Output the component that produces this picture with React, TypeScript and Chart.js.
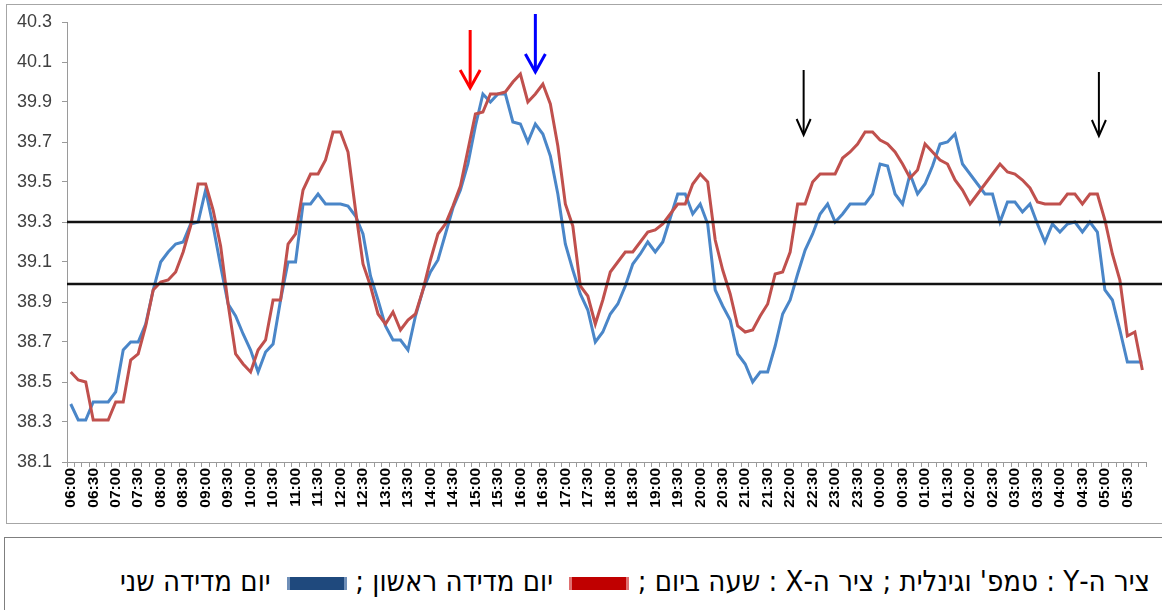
import React, { useEffect, useRef } from "react";
import { Chart, registerables } from "chart.js";

Chart.register(...registerables);

const times: string[] = [
  "06:00","06:10","06:20","06:30","06:40","06:50","07:00","07:10","07:20","07:30","07:40","07:50",
  "08:00","08:10","08:20","08:30","08:40","08:50","09:00","09:10","09:20","09:30","09:40","09:50",
  "10:00","10:10","10:20","10:30","10:40","10:50","11:00","11:10","11:20","11:30","11:40","11:50",
  "12:00","12:10","12:20","12:30","12:40","12:50","13:00","13:10","13:20","13:30","13:40","13:50",
  "14:00","14:10","14:20","14:30","14:40","14:50","15:00","15:10","15:20","15:30","15:40","15:50",
  "16:00","16:10","16:20","16:30","16:40","16:50","17:00","17:10","17:20","17:30","17:40","17:50",
  "18:00","18:10","18:20","18:30","18:40","18:50","19:00","19:10","19:20","19:30","19:40","19:50",
  "20:00","20:10","20:20","20:30","20:40","20:50","21:00","21:10","21:20","21:30","21:40","21:50",
  "22:00","22:10","22:20","22:30","22:40","22:50","23:00","23:10","23:20","23:30","23:40","23:50",
  "00:00","00:10","00:20","00:30","00:40","00:50","01:00","01:10","01:20","01:30","01:40","01:50",
  "02:00","02:10","02:20","02:30","02:40","02:50","03:00","03:10","03:20","03:30","03:40","03:50",
  "04:00","04:10","04:20","04:30","04:40","04:50","05:00","05:10","05:20","05:30","05:40","05:50",
];

const tickLabels: string[] = [
  "06:00","06:30","07:00","07:30","08:00","08:30","09:00","09:30","10:00","10:30","11:00","11:30",
  "12:00","12:30","13:00","13:30","14:00","14:30","15:00","15:30","16:00","16:30","17:00","17:30",
  "18:00","18:30","19:00","19:30","20:00","20:30","21:00","21:30","22:00","22:30","23:00","23:30",
  "00:00","00:30","01:00","01:30","02:00","02:30","03:00","03:30","04:00","04:30","05:00","05:30",
];

// יום מדידה ראשון (red)
const dayOne: number[] = [
  38.55, 38.51, 38.50, 38.31, 38.31, 38.31, 38.40, 38.40, 38.61, 38.64, 38.78, 38.96,
  39.00, 39.01, 39.05, 39.15, 39.28, 39.49, 39.49, 39.36, 39.18, 38.89, 38.64, 38.59,
  38.55, 38.66, 38.71, 38.91, 38.91, 39.19, 39.24, 39.46, 39.54, 39.54, 39.61, 39.75,
  39.75, 39.65, 39.36, 39.09, 38.98, 38.84, 38.79, 38.85, 38.76, 38.81, 38.84, 38.96,
  39.11, 39.24, 39.29, 39.38, 39.48, 39.66, 39.84, 39.85, 39.94, 39.94, 39.95, 40.00,
  40.04, 39.90, 39.94, 39.99, 39.89, 39.68, 39.39, 39.28, 38.98, 38.93, 38.79, 38.91,
  39.05, 39.10, 39.15, 39.15, 39.20, 39.25, 39.26, 39.29, 39.34, 39.39, 39.39, 39.49,
  39.54, 39.50, 39.21, 39.06, 38.94, 38.78, 38.75, 38.76, 38.83, 38.89, 39.04, 39.05,
  39.15, 39.39, 39.39, 39.50, 39.54, 39.54, 39.54, 39.62, 39.65, 39.69, 39.75, 39.75,
  39.71, 39.69, 39.65, 39.59, 39.52, 39.56, 39.69, 39.65, 39.61, 39.59, 39.51, 39.46,
  39.39, 39.44, 39.49, 39.54, 39.59, 39.55, 39.54, 39.51, 39.47, 39.40, 39.39, 39.39,
  39.39, 39.44, 39.44, 39.39, 39.44, 39.44, 39.31, 39.14, 39.01, 38.73, 38.75, 38.56,
];

// יום מדידה שני (blue)
const dayTwo: number[] = [
  38.39, 38.31, 38.31, 38.40, 38.40, 38.40, 38.45, 38.66, 38.70, 38.70, 38.79, 38.96,
  39.10, 39.15, 39.19, 39.20, 39.29, 39.30, 39.46, 39.28, 39.08, 38.89, 38.83, 38.74,
  38.66, 38.55, 38.65, 38.69, 38.91, 39.10, 39.10, 39.39, 39.39, 39.44, 39.39, 39.39,
  39.39, 39.38, 39.33, 39.24, 39.03, 38.91, 38.78, 38.71, 38.71, 38.66, 38.83, 38.96,
  39.05, 39.11, 39.24, 39.37, 39.46, 39.59, 39.78, 39.94, 39.90, 39.94, 39.94, 39.80,
  39.79, 39.70, 39.79, 39.74, 39.63, 39.44, 39.19, 39.06, 38.94, 38.86, 38.70, 38.75,
  38.84, 38.89, 38.98, 39.09, 39.14, 39.20, 39.15, 39.20, 39.32, 39.44, 39.44, 39.34,
  39.39, 39.29, 38.96, 38.88, 38.81, 38.64, 38.59, 38.50, 38.55, 38.55, 38.68, 38.84,
  38.91, 39.04, 39.16, 39.24, 39.34, 39.39, 39.30, 39.34, 39.39, 39.39, 39.39, 39.44,
  39.59, 39.58, 39.44, 39.39, 39.54, 39.44, 39.49, 39.58, 39.69, 39.70, 39.74, 39.59,
  39.54, 39.49, 39.44, 39.44, 39.30, 39.40, 39.40, 39.35, 39.39, 39.29, 39.20, 39.29,
  39.25, 39.29, 39.30, 39.25, 39.30, 39.25, 38.96, 38.91, 38.76, 38.60, 38.60, 38.60,
];

const thresholdLines: number[] = [39.3, 38.99];

const arrowAt: number[] = [53.3, 62, 97.8, 137.2];
const arrowTop: number[] = [40.26, 40.34, 40.06, 40.05];
const arrowTip: number[] = [39.97, 40.05, 39.735, 39.73];
const arrowColors: string[] = ["#ff0000", "#0000ff", "#000000", "#000000"];

const yMin = 38.1;
const yMax = 40.3;
const yStep = 0.2;

const overlayPlugin = {
  id: "overlay",
  afterDatasetsDraw(chart: any) {
    const { ctx, chartArea, scales } = chart;
    const x = scales.x;
    const y = scales.y;
    ctx.save();
    ctx.strokeStyle = "#111111";
    ctx.lineWidth = 2.5;
    thresholdLines.forEach((v) => {
      const py = y.getPixelForValue(v);
      ctx.beginPath();
      ctx.moveTo(chartArea.left, py);
      ctx.lineTo(chart.width, py);
      ctx.stroke();
    });
    arrowAt.forEach((idx, k) => {
      const px = x.getPixelForValue(idx);
      const pt = y.getPixelForValue(arrowTop[k]);
      const pb = y.getPixelForValue(arrowTip[k]);
      const black = arrowColors[k] === "#000000";
      ctx.strokeStyle = arrowColors[k];
      ctx.lineWidth = black ? 2 : 3;
      ctx.lineCap = "butt";
      ctx.beginPath();
      ctx.moveTo(px, pt);
      ctx.lineTo(px, pb - 1);
      ctx.stroke();
      const hw = black ? 7 : 10;
      const hh = black ? 16 : 18;
      ctx.beginPath();
      ctx.moveTo(px - hw, pb - hh);
      ctx.lineTo(px, pb);
      ctx.lineTo(px + hw, pb - hh);
      ctx.stroke();
    });
    ctx.restore();
  },
};

export default function App() {
  const canvasRef = useRef<HTMLCanvasElement | null>(null);

  useEffect(() => {
    if (!canvasRef.current) return;
    const chart = new Chart(canvasRef.current, {
      type: "line",
      data: {
        labels: times,
        datasets: [
          {
            label: "יום מדידה ראשון",
            data: dayOne,
            borderColor: "#c0504d",
            borderWidth: 3,
            pointRadius: 0,
            tension: 0,
            fill: false,
          },
          {
            label: "יום מדידה שני",
            data: dayTwo,
            borderColor: "#4a86c8",
            borderWidth: 3,
            pointRadius: 0,
            tension: 0,
            fill: false,
          },
        ],
      },
      options: {
        animation: false,
        responsive: false,
        maintainAspectRatio: false,
        layout: { padding: { top: 22, right: 12, left: 0, bottom: 0 } },
        plugins: {
          legend: { display: false },
          tooltip: { enabled: false },
          title: { display: false },
        },
        scales: {
          x: {
            type: "category",
            offset: true,
            afterFit: (s: any) => {
              s.height = 68;
            },
            grid: {
              display: true,
              drawOnChartArea: false,
              drawTicks: true,
              tickLength: 5,
              offset: true,
              color: "#9a9a9a",
            },
            border: { display: true, color: "#9a9a9a", width: 1 },
            ticks: {
              autoSkip: false,
              maxRotation: 90,
              minRotation: 90,
              padding: 1,
              color: "#000000",
              font: { family: "Liberation Sans, Arial, sans-serif", size: 15.5, weight: "bold" },
              callback: (_v: any, i: number) => (i % 3 === 0 ? tickLabels[i / 3] : ""),
            },
          },
          y: {
            min: yMin,
            max: yMax,
            afterFit: (s: any) => {
              s.width = 67;
            },
            grid: {
              display: true,
              drawOnChartArea: false,
              drawTicks: true,
              tickLength: 5,
              color: "#9a9a9a",
            },
            border: { display: true, color: "#9a9a9a", width: 1 },
            ticks: {
              stepSize: yStep,
              padding: 10,
              color: "#404040",
              font: { family: "Liberation Sans, Arial, sans-serif", size: 18 },
              callback: (v: any) => Number(v).toFixed(1),
            },
          },
        },
      },
      plugins: [overlayPlugin],
    } as any);
    return () => chart.destroy();
  }, []);

  return (
    <div
      style={{
        position: "absolute",
        left: 0,
        top: 0,
        width: 1162,
        height: 610,
        background: "#ffffff",
        overflow: "hidden",
      }}
    >
      <div
        style={{
          position: "absolute",
          left: 6,
          top: 4,
          width: 1200,
          height: 520,
          border: "1px solid #a6a6a6",
          boxSizing: "border-box",
        }}
      />
      <canvas
        ref={canvasRef}
        width={1162}
        height={530}
        style={{ position: "absolute", left: 0, top: 0, width: 1162, height: 530 }}
      />
      <div
        style={{
          position: "absolute",
          left: 4,
          top: 537,
          width: 1200,
          height: 120,
          border: "1px solid #7f7f7f",
          boxSizing: "border-box",
        }}
      />
      <div
        dir="rtl"
        style={{
          position: "absolute",
          right: 12,
          top: 564,
          whiteSpace: "nowrap",
          fontFamily: "'Liberation Sans Narrow', 'DejaVu Sans Condensed', 'Liberation Sans', sans-serif",
          fontSize: 29,
          lineHeight: "34px",
          color: "#000000",
        }}
      >
        {"ציר ה-Y : טמפ' וגינלית ; ציר ה-X : שעה ביום ; "}
        <span
          style={{
            display: "inline-block",
            width: 60,
            height: 13,
            background: "#c00000",
            borderLeft: "3px solid #e07070",
            borderRight: "3px solid #e07070",
            boxSizing: "border-box",
            verticalAlign: "middle",
            marginLeft: 8,
          }}
        />
        {" יום מדידה ראשון ; "}
        <span
          style={{
            display: "inline-block",
            width: 60,
            height: 13,
            background: "#1f497d",
            borderLeft: "3px solid #6f8fb8",
            borderRight: "3px solid #6f8fb8",
            boxSizing: "border-box",
            verticalAlign: "middle",
            marginLeft: 8,
          }}
        />
        {" יום מדידה שני"}
      </div>
    </div>
  );
}
